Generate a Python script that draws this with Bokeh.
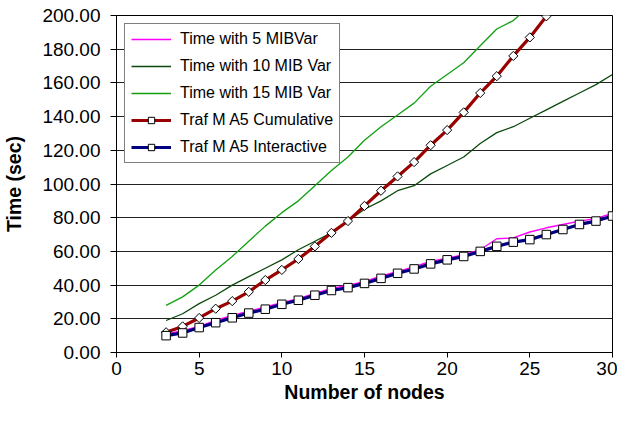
import numpy as np
from bokeh.plotting import figure
from bokeh.models import NumeralTickFormatter, FixedTicker, Range1d
from bokeh.embed import file_html
from bokeh.resources import INLINE

# ---- data ----
nodes = list(range(3, 31))
mib5 = [11, 13, 15.5, 19, 22, 24.5, 27, 29.5, 32, 35, 38, 40, 42, 45.5, 48, 51,
        54, 56, 58, 61, 67.5, 68, 71.5, 74, 76, 78, 79.5, 82.5]
mib10 = [19, 23, 29, 34, 40, 45, 50, 55, 61, 66, 71, 78, 85, 90, 96, 99,
         106, 111, 116, 124, 130.5, 134, 139, 144, 149, 154, 159, 165]
nodes15 = list(range(3, 26))
mib15 = [28, 33, 40, 49, 57, 66, 75, 83, 90, 99, 108, 116, 126, 134, 141, 148,
         158, 165, 172, 182, 192, 197, 206]
nodes_cum = list(range(3, 27))
cumulative = [12, 15.5, 20.5, 26, 30.5, 36, 43, 49, 55.5, 63, 71, 78, 87, 96,
              104.5, 113, 123, 132, 142.5, 154, 164, 176, 187, 199.5]
interactive = [10, 11.6, 14.8, 17.7, 20.6, 23.4, 25.7, 28.6, 31, 34, 36.8, 38.5,
               41, 44, 47, 49.6, 52.6, 55, 57, 60, 63, 65.5, 67, 70, 73, 76, 78, 81]
x_ticks = [0, 5, 10, 15, 20, 25, 30]
y_ticks = [0, 20, 40, 60, 80, 100, 120, 140, 160, 180, 200]

FONT = "Liberation Sans"

p = figure(width=617, height=406, output_backend="svg", toolbar_location=None,
           x_range=Range1d(0, 30), y_range=Range1d(0, 200),
           min_border_left=116, min_border_right=5, min_border_top=15,
           min_border_bottom=54)
p.background_fill_color = "white"
p.border_fill_color = "white"
p.outline_line_color = "black"
p.outline_line_width = 1
p.outline_line_alpha = 1

# grid
p.xgrid.grid_line_color = None
p.ygrid.ticker = FixedTicker(ticks=y_ticks)
p.ygrid.grid_line_color = "#222222"
p.ygrid.grid_line_width = 1

# axes
p.xaxis.ticker = FixedTicker(ticks=x_ticks)
p.yaxis.ticker = FixedTicker(ticks=y_ticks)
p.yaxis.formatter = NumeralTickFormatter(format="0.00")
for ax in (p.xaxis[0], p.yaxis[0]):
    ax.axis_line_color = "black"
    ax.major_tick_line_color = "black"
    ax.minor_tick_line_color = None
    ax.major_tick_in = 0
    ax.major_label_text_font = FONT
    ax.major_label_text_font_size = "19px"
    ax.major_label_text_color = "black"
    ax.axis_label_text_font = FONT
    ax.axis_label_text_font_size = "19.5px"
    ax.axis_label_text_font_style = "bold"
    ax.axis_label_text_color = "black"
p.xaxis.major_tick_out = 5
p.xaxis.major_label_standoff = 4
p.xaxis.axis_label = "Number of nodes"
p.xaxis.axis_label_standoff = 3
p.yaxis.major_tick_out = 6
p.yaxis.major_label_standoff = 10
p.yaxis.axis_label = "Time (sec)"
p.yaxis.axis_label_standoff = 14

# series
p.line(nodes, mib5, line_color="#ff00ff", line_width=1.4, legend_label="Time with 5 MIBVar")
p.line(nodes, mib10, line_color="#0b4a0b", line_width=1.3, legend_label="Time with 10 MIB Var")
p.line(nodes15, mib15, line_color="#10a010", line_width=1.3, legend_label="Time with 15 MIB Var")

p.line(nodes_cum, cumulative, line_color="#990000", line_width=3.2,
       legend_label="Traf M A5 Cumulative")
p.scatter(nodes_cum, cumulative, marker="square", angle=np.pi / 4, size=6.5,
          line_color="black", line_width=1, fill_color="white",
          legend_label="Traf M A5 Cumulative")

p.line(nodes, interactive, line_color="#000080", line_width=3.2,
       legend_label="Traf M A5 Interactive")
p.scatter(nodes, interactive, marker="square", size=8.5,
          line_color="black", line_width=1, fill_color="white",
          legend_label="Traf M A5 Interactive")

# legend
lg = p.legend[0]
lg.location = "top_left"
lg.margin = 8
lg.padding = 6
lg.spacing = 9
lg.label_height = 16
lg.glyph_height = 16
lg.glyph_width = 40
lg.label_standoff = 9
lg.label_text_font = FONT
lg.label_text_font_size = "16px"
lg.label_text_color = "black"
lg.border_line_color = "black"
lg.border_line_width = 1
lg.background_fill_color = "white"
lg.background_fill_alpha = 1

open("out.html", "w").write(file_html(p, INLINE))
